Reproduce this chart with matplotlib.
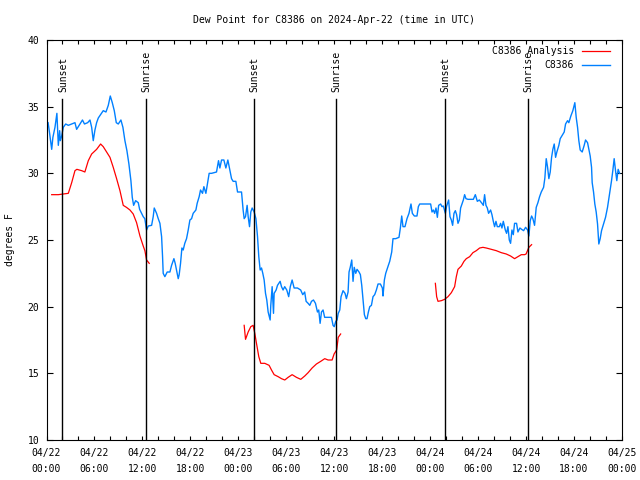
import numpy as np
import matplotlib
matplotlib.use("Agg")
import matplotlib.pyplot as plt
from matplotlib.ticker import MultipleLocator, FixedLocator
from matplotlib.transforms import offset_copy

# ---------------- data ----------------
title = "Dew Point for C8386 on 2024-Apr-22 (time in UTC)"
ylabel = "degrees F"
tick_hours = [0, 6, 12, 18, 24, 30, 36, 42, 48, 54, 60, 66, 72]
tick_labels = ["04/22\n00:00", "04/22\n06:00", "04/22\n12:00", "04/22\n18:00",
               "04/23\n00:00", "04/23\n06:00", "04/23\n12:00", "04/23\n18:00",
               "04/24\n00:00", "04/24\n06:00", "04/24\n12:00", "04/24\n18:00",
               "04/25\n00:00"]

event_hours = [2.0, 12.4, 25.95, 36.2, 49.85, 60.2]
event_labels = ["Sunset", "Sunrise", "Sunset", "Sunrise", "Sunset", "Sunrise"]

obs_hours = [0.2, 0.4, 0.65, 0.8, 1.06, 1.23, 1.3, 1.48, 1.65, 1.73, 1.9, 2.1, 2.4, 2.73, 3.15,
             3.56, 3.77, 4.19, 4.5, 4.75, 5.15, 5.44, 5.65, 5.85, 6.06, 6.27, 6.48, 6.81, 7.1,
             7.44, 7.73, 7.98, 8.23, 8.48, 8.73, 8.98, 9.31, 9.56, 9.81, 10.06, 10.31, 10.56,
             10.73, 10.9, 11.15, 11.48, 11.65, 11.9, 12.1, 12.3, 12.52, 12.73, 13.15, 13.35,
             13.48, 13.77, 13.98, 14.19, 14.4, 14.52, 14.6, 14.81, 15.1, 15.44, 15.65, 15.94,
             16.1, 16.27, 16.48, 16.6, 16.77, 16.94, 17.1, 17.3, 17.52, 17.73, 17.94, 18.15,
             18.35, 18.69, 18.85, 19.1, 19.27, 19.52, 19.69, 19.94, 20.1, 20.35, 20.65, 20.94,
             21.27, 21.52, 21.69, 21.9, 22.19, 22.44, 22.69, 22.94, 23.15, 23.35, 23.69, 23.9,
             24.4, 24.6, 24.73, 24.9, 25.1, 25.23, 25.4, 25.56, 25.73, 25.98, 26.2, 26.4,
             26.56, 26.73, 26.9, 27.06, 27.23, 27.4, 27.56, 27.73, 27.98, 28.06, 28.23, 28.4,
             28.48, 28.73, 28.9, 29.23, 29.4, 29.6, 29.8, 30.06, 30.3, 30.5, 30.73, 30.98,
             31.4, 31.8, 32.06, 32.3, 32.48, 32.73, 32.94, 33.15, 33.4, 33.65, 33.9, 34.06,
             34.23, 34.4, 34.6, 34.8, 35.23, 35.65, 35.85, 36.0, 36.19, 36.35, 36.5, 36.69,
             36.85, 37.1, 37.35, 37.52, 37.73, 37.85, 38.0, 38.19, 38.35, 38.5, 38.69, 38.85,
             39.1, 39.27, 39.44, 39.6, 39.77, 39.94, 40.1, 40.27, 40.44, 40.65, 40.85, 41.06,
             41.27, 41.48, 41.77, 42.02, 42.1, 42.27, 42.44, 42.6, 42.77, 42.94, 43.19, 43.35,
             43.69, 44.1, 44.27, 44.44, 44.6, 44.85, 45.1, 45.35, 45.6, 45.77, 46.02, 46.35,
             46.52, 46.69, 47.1, 47.6, 48.06, 48.23, 48.4, 48.56, 48.73, 48.9, 49.06, 49.31,
             49.48, 49.65, 49.9, 50.06, 50.31, 50.48, 50.65, 50.81, 50.98, 51.15, 51.31, 51.48,
             51.65, 51.81, 51.98, 52.15, 52.31, 52.48, 52.73, 53.15, 53.4, 53.65, 53.9, 54.15,
             54.48, 54.65, 54.81, 54.98, 55.15, 55.31, 55.56, 55.73, 55.9, 56.06, 56.23, 56.4,
             56.65, 56.81, 56.98, 57.15, 57.4, 57.56, 57.73, 57.9, 58.06, 58.23, 58.4, 58.56,
             58.81, 58.98, 59.23, 59.44, 59.69, 59.94, 60.19, 60.35, 60.52, 60.69, 60.85, 61.06,
             61.27, 61.48, 61.69, 61.9, 62.19, 62.35, 62.52, 62.69, 62.85, 63.02, 63.19, 63.35,
             63.52, 63.69, 63.85, 64.1, 64.27, 64.52, 64.77, 64.94, 65.19, 65.35, 65.6, 65.85,
             66.1, 66.27, 66.44, 66.6, 66.77, 67.02, 67.27, 67.44, 67.69, 67.85, 68.02, 68.19,
             68.27, 68.44, 68.6, 68.77, 68.94, 69.1, 69.27, 69.44, 69.69, 69.94, 70.19, 70.44,
             70.69, 70.85, 71.02, 71.19, 71.35, 71.52, 71.7]
obs_values = [33.8, 32.95, 31.8, 32.7, 33.45, 34.2, 34.5, 32.1, 33.2, 32.45, 32.8, 33.45, 33.7, 33.6, 33.7,
              33.8, 33.3, 33.7, 34.0, 33.7, 33.8, 34.0, 33.45, 32.45, 33.25, 33.8, 34.15, 34.45, 34.7,
              34.6, 35.1, 35.8, 35.3, 34.7, 33.8, 33.7, 34.0, 33.45, 32.45, 31.7, 30.7, 29.45,
              28.2, 27.6, 27.95, 27.8, 27.3, 27.0, 26.75, 26.6, 25.75, 26.05, 26.1, 26.75,
              27.4, 27.0, 26.6, 26.25, 25.25, 23.75, 22.5, 22.25, 22.6, 22.6, 23.1, 23.6,
              23.25, 22.75, 22.1, 22.4, 23.25, 24.4, 24.25, 24.75, 25.1, 25.75, 26.5, 26.6,
              27.0, 27.25, 27.75, 28.25, 28.75, 28.5, 29.0, 28.5, 29.1, 30.0, 30.0, 30.05,
              30.1, 30.95, 30.4, 31.0, 31.0, 30.4, 31.0, 30.25, 29.6, 29.4, 29.4, 28.6,
              28.6, 27.25, 26.6, 26.75, 27.6, 26.75, 26.0, 27.1, 27.4, 27.1, 26.6, 25.25,
              23.75, 22.75, 22.9, 22.5, 22.0, 21.0, 20.5, 19.6, 19.0, 20.1, 21.5, 19.5,
              21.0, 21.25, 21.6, 21.9, 21.5, 21.25, 21.5, 21.25, 20.75, 21.5, 22.0, 21.4,
              21.4, 21.25, 20.9, 21.1, 20.4, 20.25, 20.1, 20.4, 20.5, 20.25, 19.6, 19.75,
              18.75, 19.6, 19.75, 19.2, 19.2, 19.2, 18.6, 18.5, 18.9, 19.0, 19.5, 19.75,
              20.75, 21.2, 21.0, 20.6, 21.1, 22.6, 22.95, 23.5, 21.9, 22.95, 22.5, 22.8,
              22.6, 22.4, 21.6, 20.5, 19.4, 19.1, 19.1, 19.6, 20.0, 20.1, 20.75, 20.9,
              21.25, 21.7, 21.7, 21.4, 20.8, 22.0, 22.5, 22.8, 23.1, 23.4, 24.1, 25.1,
              25.1, 25.2, 25.9, 26.8, 26.0, 26.0, 26.6, 27.0, 27.7, 27.0, 26.8, 26.8,
              27.5, 27.7, 27.7, 27.7, 27.7, 27.1, 27.25, 27.0, 27.4, 26.7, 27.6, 27.7,
              27.5, 27.55, 27.0, 27.55, 28.0, 26.75, 26.5, 26.1, 27.0, 27.2, 26.9, 26.25,
              26.5, 27.4, 27.7, 28.0, 28.4, 28.1, 28.05, 28.05, 28.05, 28.4, 27.9, 28.0,
              27.75, 27.6, 28.4, 27.6, 27.4, 27.0, 27.25, 26.9, 26.4, 26.0, 26.4, 26.0,
              26.0, 26.25, 25.9, 26.4, 25.75, 25.5, 26.0, 25.0, 24.75, 25.75, 25.4, 26.25,
              26.25, 25.6, 25.9, 25.8, 25.7, 25.95, 25.75, 25.3, 26.45, 26.8, 26.6, 26.1,
              27.45, 27.8, 28.25, 28.6, 28.95, 29.65, 31.1, 30.45, 29.6, 30.1, 31.2, 31.8,
              32.2, 31.2, 31.6, 32.1, 32.6, 32.85, 33.1, 33.7, 33.95, 33.8, 34.3, 34.7,
              35.3, 34.2, 33.45, 32.45, 31.75, 31.6, 32.1, 32.5, 32.3, 31.8, 31.3, 30.45,
              29.3, 28.6, 27.7, 27.1, 26.2, 24.7, 25.1, 25.7, 26.2, 26.7, 27.45, 28.45,
              29.45, 30.2, 31.1, 30.2, 29.45, 30.3, 30.0]

ana_hours = [0.65, 1.48, 2.1, 2.73, 3.15, 3.56, 3.8, 4.4, 4.8, 5.23, 5.65, 6.27, 6.77, 7.1,
             7.52, 7.94, 8.35, 8.77, 9.19, 9.6, 10.0, 10.44, 10.85, 11.27, 11.69, 12.1, 12.31,
             12.52, 12.85, 18.0,
             24.73, 24.9, 25.23, 25.56, 25.85, 26.06, 26.27, 26.56, 26.81, 27.31, 27.85, 28.15,
             28.48, 28.98, 29.4, 29.81, 30.23, 30.73, 31.27, 31.81, 32.31, 32.73, 33.23, 33.77,
             34.31, 34.81, 35.23, 35.73, 35.98, 36.3, 36.5, 36.8, 42.0,
             48.65, 48.81, 48.98, 49.4, 49.81, 50.23, 50.65, 51.06, 51.27, 51.48, 51.9, 52.23,
             52.52, 52.94, 53.35, 53.77, 54.19, 54.6, 55.02, 55.65, 56.27, 56.9, 57.52, 58.06,
             58.56, 58.98, 59.4, 59.81, 60.0, 60.35, 60.69]
ana_values = [28.4, 28.4, 28.45, 28.5, 29.3, 30.2, 30.3, 30.2, 30.1, 30.95, 31.45, 31.8, 32.2, 32.0,
              31.6, 31.2, 30.45, 29.6, 28.7, 27.6, 27.45, 27.25, 26.95, 26.3, 25.3, 24.55, 24.2,
              23.5, 23.25, np.nan,
              18.6, 17.55, 18.1, 18.5, 18.6, 18.0, 17.25, 16.25, 15.75, 15.75, 15.6, 15.25,
              14.9, 14.75, 14.6, 14.5, 14.7, 14.9, 14.7, 14.55, 14.8, 15.05, 15.4, 15.7,
              15.9, 16.1, 16.0, 16.0, 16.45, 16.75, 17.7, 17.95, np.nan,
              21.75, 20.75, 20.4, 20.45, 20.55, 20.75, 21.05, 21.5, 22.25, 22.8, 23.05, 23.4,
              23.6, 23.75, 24.05, 24.2, 24.4, 24.45, 24.4, 24.3, 24.2, 24.05, 23.95, 23.8,
              23.6, 23.75, 23.9, 23.9, 23.95, 24.45, 24.65]

# ---------------- plot ----------------
FONT = "DejaVu Sans Mono"
FS = 7
plt.rcParams["font.family"] = FONT
plt.rcParams["font.size"] = FS

W, H = 640, 480
fig = plt.figure(figsize=(W / 100, H / 100), dpi=100)
L, R, T, B = 46.5, 622, 40, 440
ax = fig.add_axes([L / W, 1 - B / H, (R - L) / W, (B - T) / H])

ax.set_xlim(0, 72)
ax.set_ylim(10, 40)

ax.plot(ana_hours, ana_values, color="#ff0000", lw=0.9, label="C8386 Analysis")
ax.plot(obs_hours, obs_values, color="#0080ff", lw=1.0, label="C8386")

txt_tr = offset_copy(ax.transData, fig=fig, x=0.8, y=0, units="dots")
for hx, lab in zip(event_hours, event_labels):
    ax.plot([hx, hx], [10, 35.55], color="black", lw=1.0)
    ax.text(hx, 36.1, lab, rotation=90, ha="center", va="bottom", fontsize=FS,
            transform=txt_tr)

ax.xaxis.set_major_locator(FixedLocator(tick_hours))
ax.set_xticklabels(tick_labels, linespacing=1.7)
ax.xaxis.set_minor_locator(MultipleLocator(2))
ax.yaxis.set_major_locator(MultipleLocator(5))
ax.tick_params(axis="both", which="both", direction="in", top=True, right=True,
               width=0.8, labelsize=FS)
ax.tick_params(axis="x", which="both", length=3, pad=6)
ax.tick_params(axis="y", which="major", length=4, pad=5)

for s in ax.spines.values():
    s.set_linewidth(0.8)

ax.set_ylabel(ylabel, fontsize=FS)
ax.yaxis.set_label_coords((15 - L) / (R - L), 0.5)

fig.text(334 / W, 1 - 20 / H, title, ha="center", va="center", fontsize=FS)

leg = ax.legend(loc="upper right", bbox_to_anchor=((610 - L) / (R - L), (B - 46) / (B - T)),
                frameon=False, markerfirst=False, borderaxespad=0, borderpad=0,
                handlelength=2.9, handletextpad=0.8, labelspacing=0.45, fontsize=FS)

fig.savefig("out.png", dpi=100)
